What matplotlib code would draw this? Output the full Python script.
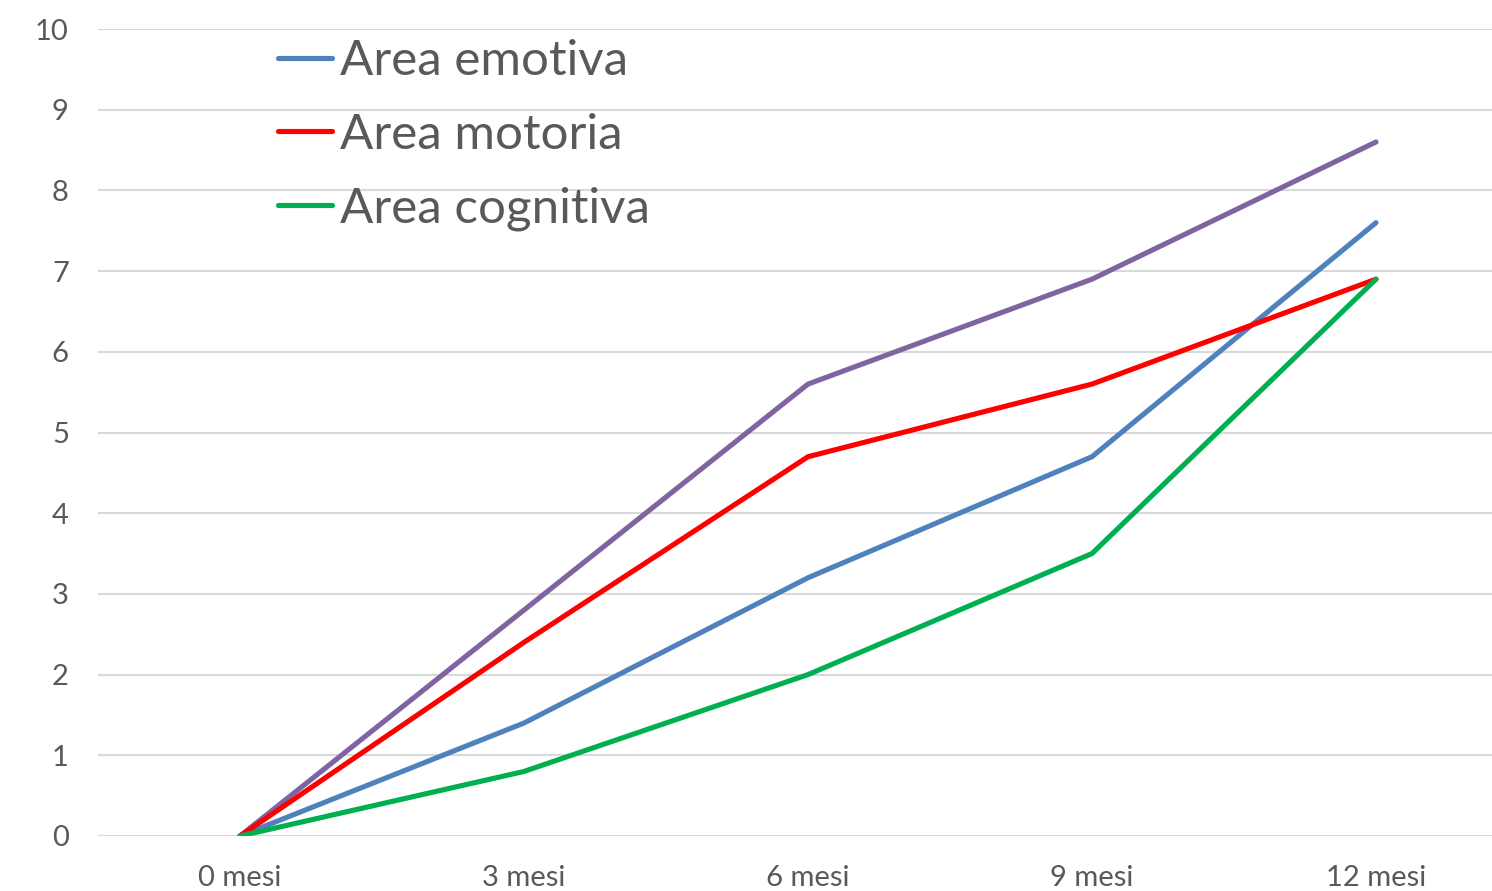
import matplotlib
matplotlib.use("Agg")
import matplotlib.pyplot as plt

categories = ["0 mesi", "3 mesi", "6 mesi", "9 mesi", "12 mesi"]
area_emotiva = [0, 1.4, 3.2, 4.7, 7.6]
area_motoria = [0, 2.4, 4.7, 5.6, 6.9]
area_cognitiva = [0, 0.8, 2.0, 3.5, 6.9]
totale = [0, 2.8, 5.6, 6.9, 8.6]
y_ticks = list(range(0, 11))

plt.rcParams['font.family'] = ['Lato', 'DejaVu Sans']

fig = plt.figure(figsize=(14.92, 8.91), dpi=100)
ax = fig.add_axes([98/1492, 55/891, 1420/1492, 807/891])

x = list(range(len(categories)))
LW = 3.7
ax.plot(x, totale, color="#8064A2", lw=LW, solid_capstyle="round", zorder=3)
l1, = ax.plot(x, area_emotiva, color="#4F81BD", lw=LW, solid_capstyle="round", label="Area emotiva", zorder=3)
l2, = ax.plot(x, area_motoria, color="#FF0000", lw=LW, solid_capstyle="round", label="Area motoria", zorder=3)
l3, = ax.plot(x, area_cognitiva, color="#00B050", lw=LW, solid_capstyle="round", label="Area cognitiva", zorder=3)

ax.set_xlim(-0.5, 4.5)
ax.set_ylim(0, 10)
ax.set_xticks(x)
ax.set_xticklabels(categories)
ax.set_yticks(y_ticks)
ax.grid(axis="y", color="#D9D9D9", lw=1.5, zorder=0)
ax.set_axisbelow(True)
for s in ax.spines.values():
    s.set_visible(False)
ax.tick_params(axis="both", length=0, labelsize=21, colors="#595959")
ax.tick_params(axis="x", pad=21)
ax.tick_params(axis="y", pad=21)

leg = fig.legend(handles=[l1, l2, l3], loc="upper left",
                 bbox_to_anchor=(278/1492, 1 - 39/891), frameon=False,
                 fontsize=35.5, handlelength=1.1, handletextpad=0.15,
                 labelspacing=0.6, borderpad=0, borderaxespad=0)
for t in leg.get_texts():
    t.set_color("#595959")

fig.savefig("out.png", dpi=100)
